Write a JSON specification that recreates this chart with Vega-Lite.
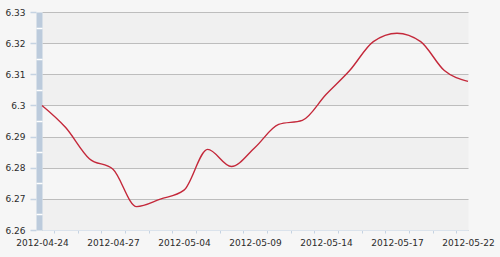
{
  "$schema": "https://vega.github.io/schema/vega-lite/v6.json",
  "width": 426,
  "height": 218,
  "autosize": {"type": "none"},
  "padding": {"left": 42, "top": 12, "right": 32, "bottom": 27},
  "background": "#f6f6f6",
  "config": {
    "view": {"stroke": null},
    "axis": {"labelFont": "DejaVu Sans", "labelFontSize": 9, "labelColor": "#2b2b2b", "title": null}
  },
  "data": {
    "values": [
      {"i": 0, "date": "2012-04-24", "rate": 6.3000},
      {"i": 1, "date": "2012-04-25", "rate": 6.2929},
      {"i": 2, "date": "2012-04-26", "rate": 6.2829},
      {"i": 3, "date": "2012-04-27", "rate": 6.2795},
      {"i": 4, "date": "2012-05-02", "rate": 6.2675},
      {"i": 5, "date": "2012-05-03", "rate": 6.2699},
      {"i": 6, "date": "2012-05-04", "rate": 6.2728},
      {"i": 7, "date": "2012-05-07", "rate": 6.2859},
      {"i": 8, "date": "2012-05-08", "rate": 6.2804},
      {"i": 9, "date": "2012-05-09", "rate": 6.2865},
      {"i": 10, "date": "2012-05-10", "rate": 6.2939},
      {"i": 11, "date": "2012-05-11", "rate": 6.2952},
      {"i": 12, "date": "2012-05-14", "rate": 6.3035},
      {"i": 13, "date": "2012-05-15", "rate": 6.3112},
      {"i": 14, "date": "2012-05-16", "rate": 6.3205},
      {"i": 15, "date": "2012-05-17", "rate": 6.3232},
      {"i": 16, "date": "2012-05-18", "rate": 6.3205},
      {"i": 17, "date": "2012-05-21", "rate": 6.3112},
      {"i": 18, "date": "2012-05-22", "rate": 6.3077}
    ]
  },
  "layer": [
    {
      "mark": {"type": "line", "opacity": 0},
      "encoding": {
        "x": {"field": "i", "type": "quantitative", "scale": {"domain": [0, 18], "nice": false, "zero": false}, "axis": null},
        "y": {
          "field": "rate", "type": "quantitative",
          "scale": {"domain": [6.26, 6.33], "nice": false, "zero": false},
          "axis": {
            "orient": "left", "offset": 3,
            "values": [6.265, 6.285, 6.305, 6.325],
            "grid": true, "gridWidth": 31.2, "gridColor": "#f0f0f0",
            "ticks": false, "labels": false,
            "domain": true, "domainWidth": 6, "domainColor": "#bccbdc", "domainCap": "butt"
          }
        }
      }
    },
    {
      "mark": {"type": "line", "interpolate": "monotone", "color": "#c4283a", "strokeWidth": 1.4},
      "encoding": {
        "x": {
          "field": "i", "type": "quantitative",
          "scale": {"domain": [0, 18], "nice": false, "zero": false},
          "axis": {
            "orient": "bottom",
            "values": [0, 3, 6, 9, 12, 15, 18],
            "labelExpr": "['2012-04-24','','','2012-04-27','','','2012-05-04','','','2012-05-09','','','2012-05-14','','','2012-05-17','','','2012-05-22'][datum.value]",
            "ticks": false, "domain": false, "grid": false,
            "labelPadding": 8, "labelFlush": false, "labelOverlap": false
          }
        },
        "y": {
          "field": "rate", "type": "quantitative",
          "scale": {"domain": [6.26, 6.33], "nice": false, "zero": false},
          "axis": {
            "orient": "left", "offset": 6,
            "values": [6.26, 6.27, 6.28, 6.29, 6.3, 6.31, 6.32, 6.33],
            "format": ".3~g",
            "tickSize": 6, "tickColor": "#c5d3e2", "tickWidth": 1.5,
            "labelPadding": 5,
            "grid": true, "gridColor": "#bdbdbd", "gridWidth": 1,
            "domain": false
          }
        }
      }
    },
    {
      "mark": {"type": "line", "opacity": 0},
      "encoding": {
        "x": {
          "field": "i", "type": "quantitative",
          "scale": {"domain": [0, 18], "nice": false, "zero": false},
          "axis": {
            "orient": "bottom",
            "values": [0.5, 1.5, 2.5, 3.5, 4.5, 5.5, 6.5, 7.5, 8.5, 9.5, 10.5, 11.5, 12.5, 13.5, 14.5, 15.5, 16.5, 17.5],
            "labels": false, "tickSize": 3, "tickColor": "#c5d3e2", "tickWidth": 1,
            "domain": true, "domainColor": "#dbe3ec", "grid": false
          }
        },
        "y": {
          "field": "rate", "type": "quantitative",
          "scale": {"domain": [6.26, 6.33], "nice": false, "zero": false},
          "axis": {
            "orient": "left", "offset": 6,
            "values": [6.265, 6.275, 6.285, 6.295, 6.305, 6.315, 6.325],
            "labels": false, "tickSize": -6, "tickColor": "#ffffff", "tickWidth": 1.5,
            "domain": false, "grid": false
          }
        }
      }
    }
  ],
  "resolve": {
    "scale": {"x": "shared", "y": "shared"},
    "axis": {"x": "independent", "y": "independent"}
  }
}
